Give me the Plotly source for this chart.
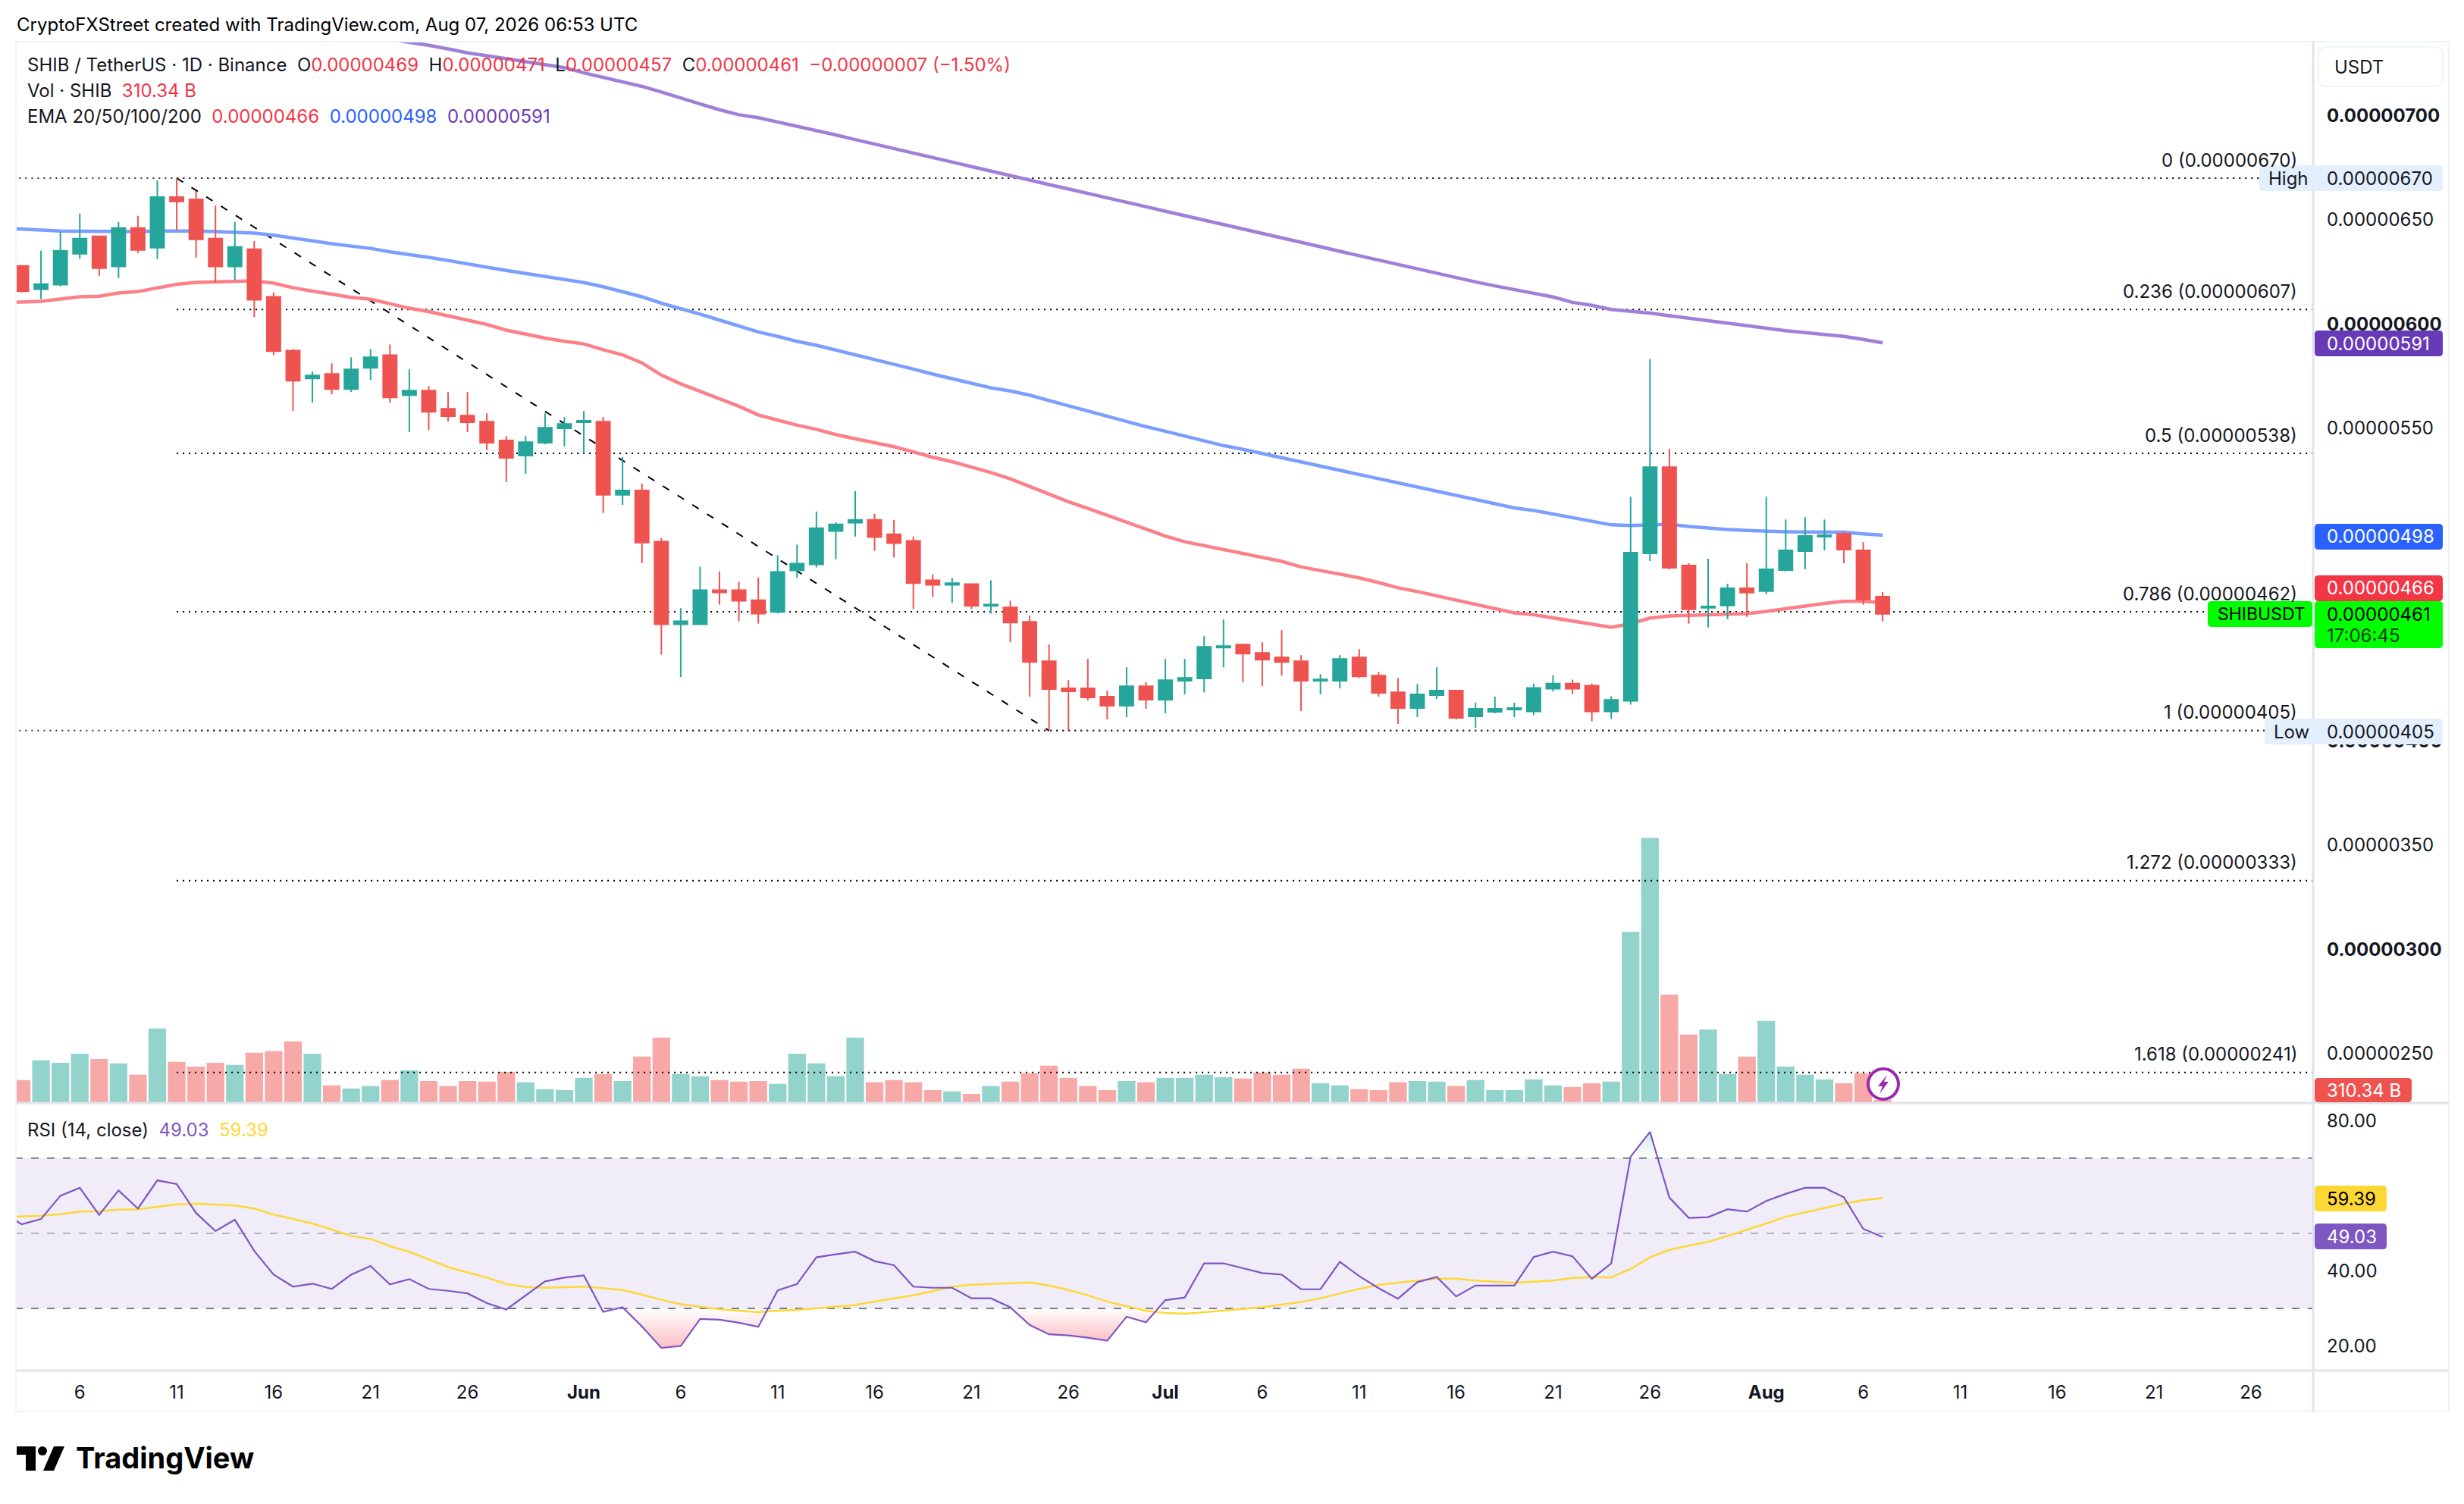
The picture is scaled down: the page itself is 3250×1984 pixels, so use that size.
import pandas as pd
import plotly.graph_objects as go

# prices are in units of 0.00000001 USDT, volume in billions of SHIB
dates = pd.date_range("2026-05-03", "2026-08-07", freq="D")
# the indicator lines start one day earlier so they reach the left edge
line_dates = pd.date_range("2026-05-02", "2026-08-07", freq="D")

open_ = [627.9, 616.7, 618.9, 633.7, 642.1, 627.6, 646.1, 636.6, 660.9, 659.8, 641.0, 627.6, 635.9, 613.1, 587.3, 573.9,
         576.1, 568.8, 579.0, 585.1, 565.9, 568.1, 559.4, 556.1, 553.2, 544.2, 536.9, 543.1, 550.0, 552.9, 553.2, 518.1,
         520.2, 495.6, 456.0, 456.0, 472.4, 472.4, 467.6, 461.9, 481.8, 484.7, 500.7, 504.7, 506.1, 499.2, 496.0, 477.1,
         474.9, 475.3, 464.8, 464.1, 457.2, 438.3, 425.3, 425.3, 421.3, 416.9, 426.3, 419.8, 428.9, 430.0, 444.8, 446.3,
         442.3, 440.1, 438.3, 428.9, 428.9, 440.1, 431.4, 423.4, 415.8, 422.0, 424.2, 411.8, 414.0, 415.1, 414.2, 425.1,
         427.6, 426.6, 414.2, 419.3, 490.0, 531.4, 484.2, 463.9, 465.0, 473.3, 471.9, 482.0, 491.1, 498.0, 499.4, 491.5,
         469.3]
high = [628.0, 635.2, 644.3, 653.0, 642.1, 649.0, 651.9, 668.9, 670.0, 663.8, 656.9, 649.0, 639.9, 615.2, 588.0, 577.2,
        581.2, 584.1, 588.0, 590.2, 578.3, 570.3, 567.4, 567.4, 557.2, 546.3, 546.3, 557.2, 555.4, 558.3, 555.4, 536.2,
        523.5, 497.4, 463.7, 483.6, 481.4, 476.4, 478.5, 489.1, 494.2, 510.1, 505.0, 519.9, 509.0, 506.1, 498.1, 480.0,
        478.2, 475.3, 477.1, 467.3, 460.1, 446.3, 429.2, 439.4, 424.2, 435.4, 428.2, 439.4, 439.4, 450.3, 458.3, 446.3,
        447.4, 453.2, 441.2, 432.1, 441.2, 444.1, 433.2, 430.3, 427.4, 435.4, 424.2, 418.4, 421.3, 418.4, 427.6, 431.6,
        429.5, 427.6, 421.5, 517.2, 583.2, 540.1, 485.3, 487.5, 475.5, 485.3, 517.2, 506.3, 507.4, 506.3, 500.2, 495.5,
        471.5]
low = [615.2, 612.0, 618.1, 631.2, 623.2, 622.1, 634.1, 631.2, 645.0, 631.9, 620.0, 621.0, 603.3, 585.1, 558.3, 562.3,
       566.3, 567.4, 573.2, 562.3, 548.2, 549.2, 553.2, 548.2, 539.5, 524.2, 528.2, 542.4, 541.3, 538.0, 509.4, 513.3,
       485.4, 441.5, 430.7, 455.7, 465.5, 457.5, 456.4, 461.2, 478.2, 483.3, 487.3, 498.1, 491.3, 488.0, 463.3, 469.1,
       466.2, 463.3, 461.2, 447.4, 421.3, 405.3, 405.3, 419.5, 410.4, 411.5, 415.5, 413.3, 422.4, 423.4, 435.4, 428.2,
       426.3, 431.4, 414.4, 422.4, 425.3, 430.3, 421.3, 408.2, 411.5, 420.2, 410.4, 406.4, 413.3, 411.5, 412.4, 423.7,
       422.6, 409.5, 410.6, 417.5, 486.4, 482.4, 456.3, 454.5, 458.5, 459.6, 470.4, 481.3, 482.4, 491.5, 485.3, 465.4,
       457.4]
close = [615.7, 619.2, 635.2, 641.0, 626.8, 646.1, 635.5, 660.9, 658.8, 640.6, 627.6, 637.0, 611.6, 587.0, 572.8, 575.4,
         568.8, 578.3, 584.1, 564.8, 568.1, 557.9, 555.8, 552.9, 543.1, 535.8, 543.4, 550.3, 552.1, 553.6, 518.1, 520.2,
         495.2, 456.0, 457.5, 472.4, 471.3, 467.3, 461.1, 481.1, 485.1, 502.1, 503.9, 506.1, 497.8, 494.9, 475.7, 474.9,
         475.7, 464.8, 465.5, 456.8, 437.9, 424.9, 423.8, 420.9, 416.9, 426.3, 419.8, 429.2, 430.3, 445.2, 445.6, 441.9,
         439.0, 437.9, 428.9, 429.6, 439.4, 431.0, 423.1, 415.8, 422.4, 424.2, 411.1, 415.5, 415.5, 415.8, 425.5, 427.6,
         425.1, 414.2, 419.7, 490.4, 531.4, 483.1, 463.2, 464.6, 473.3, 471.2, 482.4, 491.5, 498.4, 498.7, 491.8, 467.9,
         461.0]
volume = [2263, 4216, 3968, 4867, 4340, 3906, 2790, 7347, 4061, 3596, 3968, 3751, 4960, 5115, 6076, 4867, 1736, 1426,
          1674, 2263, 3224, 2170, 1674, 2170, 2108, 3069, 2046, 1364, 1271, 2480, 2852, 2170, 4588, 6448, 2852, 2635,
          2263, 2108, 2170, 1891, 4867, 3906, 2635, 6448, 2046, 2263, 2046, 1271, 1147, 899, 1674, 2108, 2945, 3689,
          2480, 1674, 1271, 2170, 2046, 2480, 2480, 2790, 2542, 2418, 3007, 2790, 3379, 1953, 1736, 1364, 1271, 2046,
          2170, 2108, 1674, 2263, 1271, 1271, 2325, 1736, 1581, 1953, 2108, 16895, 26164, 10695, 6758, 7254, 2852, 4588,
          8091, 3596, 2790, 2325, 1953, 2945, 310.34]

ema_red = [610.2, 610.5, 610.9, 612.0, 613.1, 613.4, 614.9, 615.6, 617.4, 619.1, 620.0, 620.2, 620.8, 620.7, 619.6, 617.4, 615.8,
           614.2, 612.8, 611.9, 609.6, 607.6, 606.0, 603.9, 602.2, 599.8, 597.1, 595.1, 593.3, 591.7, 590.5, 587.7, 585.2,
           581.4, 575.5, 571.3, 567.6, 564.0, 560.6, 556.4, 553.9, 551.5, 549.5, 547.0, 545.0, 543.2, 541.2, 538.7, 536.1,
           534.0, 531.5, 528.8, 525.8, 522.0, 518.6, 514.8, 511.6, 508.3, 504.9, 501.3, 498.3, 495.6, 493.7, 491.7, 489.9,
           488.0, 486.2, 483.5, 481.7, 480.1, 478.3, 476.0, 473.5, 471.7, 469.6, 467.6, 465.4, 463.3, 461.5, 460.6, 459.2,
           457.7, 456.2, 454.6, 456.3, 459.0, 460.0, 460.2, 460.4, 460.8, 461.1, 462.2, 463.3, 464.7, 466.0, 467.0, 467.0,
           466.5]
ema_blue = [646.0, 645.5, 644.9, 644.6, 644.5, 644.4, 644.4, 644.4, 644.6, 644.7, 644.6, 644.4, 644.1, 643.6, 642.6, 641.1, 640.0,
            638.5, 637.4, 636.3, 634.6, 633.5, 632.0, 630.5, 629.1, 627.3, 625.7, 624.2, 622.8, 621.3, 619.9, 617.9, 615.7,
            613.1, 610.0, 607.6, 604.8, 601.9, 599.0, 596.2, 594.1, 591.7, 589.8, 587.6, 585.4, 583.1, 580.8, 578.4, 576.0,
            573.7, 571.4, 569.4, 567.9, 565.9, 563.3, 560.8, 558.3, 555.7, 553.1, 550.8, 548.6, 546.3, 543.9, 541.7, 539.9,
            537.9, 535.9, 534.0, 532.2, 530.2, 528.0, 526.2, 523.9, 522.0, 520.0, 518.0, 515.8, 513.9, 511.8, 510.6, 508.9,
            507.0, 505.4, 503.7, 503.4, 503.9, 504.0, 502.9, 502.1, 501.5, 501.0, 500.5, 500.4, 500.3, 500.3, 500.2, 499.4,
            498.7]
# the 200 EMA only enters the pane on May 22
ema_purple_start = 19
ema_purple = [736.5, 735.2, 733.7, 732.0, 730.1, 728.7, 727.3, 725.9, 724.7, 723.0, 720.5, 718.4, 716.2, 714.0, 711.3, 708.3,
              705.6, 702.8, 700.4, 699.0, 697.0, 695.0, 692.8, 690.7, 688.5, 686.3, 684.1, 681.9, 679.7, 677.6, 675.5, 673.4,
              671.3, 669.1, 666.9, 664.8, 662.7, 660.6, 658.4, 656.2, 654.1, 652.0, 649.9, 647.8, 645.7, 643.6, 641.5, 639.3,
              637.1, 634.9, 632.8, 630.6, 628.3, 626.1, 624.0, 622.1, 620.2, 618.3, 616.5, 614.8, 613.0, 610.4, 609.0, 607.0,
              606.2, 605.3, 604.0, 602.8, 601.5, 600.2, 598.9, 597.7, 596.8, 595.9, 595.0, 594.1, 592.6, 591.0]

rsi = [55.6, 52.4, 53.8, 60.0, 62.1, 54.9, 61.4, 56.6, 64.1, 63.1, 55.4, 50.6, 53.6, 45.3, 39.0, 35.8, 36.6, 35.2, 39.0, 41.3, 36.4,
       37.8, 35.2, 34.7, 34.0, 31.4, 29.7, 33.4, 37.2, 38.2, 38.8, 29.1, 30.3, 25.2, 19.5, 20.0, 27.2, 27.0, 26.2, 25.1, 34.8,
       36.5, 43.6, 44.4, 45.1, 42.6, 41.5, 35.8, 35.5, 35.5, 32.7, 32.7, 30.3, 25.6, 23.1, 22.8, 22.2, 21.4, 27.8, 26.3, 32.2,
       32.9, 42.0, 42.0, 40.7, 39.4, 39.0, 35.1, 35.1, 42.4, 38.6, 35.4, 32.6, 37.0, 38.4, 33.2, 36.1, 36.1, 36.1, 43.7, 45.1,
       43.9, 37.9, 42.0, 70.4, 77.0, 59.5, 54.1, 54.3, 56.4, 55.8, 58.6, 60.5, 62.1, 62.1, 59.6, 51.2, 49.03]
rsi_ma = [54.3, 54.5, 54.7, 55.1, 55.8, 55.9, 56.3, 56.4, 57.0, 57.7, 57.9, 57.6, 57.4, 56.6, 55.0, 53.8, 52.6, 51.0, 49.3, 48.5, 46.6,
          45.1, 43.1, 41.0, 39.6, 38.2, 36.5, 35.7, 35.5, 35.7, 35.8, 35.4, 34.9, 33.7, 32.3, 31.1, 30.5, 29.8, 29.4, 29.0, 29.4,
          29.6, 30.0, 30.4, 30.9, 31.8, 32.7, 33.5, 34.6, 35.8, 36.3, 36.5, 36.8, 36.9, 36.1, 34.9, 33.5, 31.8, 30.6, 29.4, 28.8,
          28.6, 29.0, 29.4, 29.8, 30.3, 31.0, 31.7, 32.7, 34.0, 35.2, 36.3, 36.8, 37.4, 37.9, 37.9, 37.4, 37.1, 36.8, 37.1, 37.4,
          38.1, 38.3, 38.3, 40.5, 43.6, 45.6, 46.7, 47.7, 49.3, 50.9, 52.6, 54.4, 55.6, 56.8, 57.9, 58.8, 59.39]

fib_ratios = ["0", "0.236", "0.5", "0.786", "1", "1.272", "1.618"]
fib_levels = [670, 607, 538, 462, 405, 333, 241]
price_ticks = [700, 650, 600, 550, 500, 450, 400, 350, 300, 250]
bold_ticks = [700, 600, 400, 300]
rsi_ticks = [80, 60, 40, 20]
tick_dates = ["2026-05-06", "2026-05-11", "2026-05-16", "2026-05-21", "2026-05-26", "2026-06-01", "2026-06-06",
              "2026-06-11", "2026-06-16", "2026-06-21", "2026-06-26", "2026-07-01", "2026-07-06", "2026-07-11",
              "2026-07-16", "2026-07-21", "2026-07-26", "2026-08-01", "2026-08-06", "2026-08-11", "2026-08-16",
              "2026-08-21", "2026-08-26"]
tick_text = ["6", "11", "16", "21", "26", "<b>Jun</b>", "6", "11", "16", "21", "26", "<b>Jul</b>", "6", "11", "16",
             "21", "26", "<b>Aug</b>", "6", "11", "16", "21", "26"]

FONT = "Inter"
INK = "#131722"
UP = "#26a69a"
DOWN = "#ef5350"

W, H = 3250, 1984
L, R, T, B = 20, 3051, 54, 1808
PANE = 1455
PRICE_RANGE = [226.4, 735.8]


def px(x):
    return (x - L) / (R - L)


def py(y):
    return 1 - (y - T) / (B - T)


def poly(points):
    return "M " + " L ".join(f"{px(x)},{py(y)}" for x, y in points) + " Z"


def box(x0, y0, x1, y1, color, line=None, r=5):
    # rounded rectangle given in page pixels
    path = (f"M {px(x0 + r)},{py(y0)} L {px(x1 - r)},{py(y0)} Q {px(x1)},{py(y0)} {px(x1)},{py(y0 + r)} "
            f"L {px(x1)},{py(y1 - r)} Q {px(x1)},{py(y1)} {px(x1 - r)},{py(y1)} L {px(x0 + r)},{py(y1)} "
            f"Q {px(x0)},{py(y1)} {px(x0)},{py(y1 - r)} L {px(x0)},{py(y0 + r)} Q {px(x0)},{py(y0)} {px(x0 + r)},{py(y0)} Z")
    return dict(type="path", path=path, xref="paper", yref="paper", fillcolor=color, layer="above",
                line=dict(color=line or color, width=2 if line else 0))


def page_line(x0, y0, x1, y1, color, width):
    return dict(type="line", xref="paper", yref="paper", x0=px(x0), y0=py(y0), x1=px(x1), y1=py(y1), layer="above",
                line=dict(color=color, width=width))


def label(x, y, text, color=INK, size=24, anchor="left"):
    return dict(x=px(x), y=py(y), xref="paper", yref="paper", text=text, showarrow=False, xanchor=anchor,
                yanchor="middle", align=anchor, font=dict(family=FONT, size=size, color=color))


def zone(values, level, below):
    # pieces of the RSI line past a level, closed along the level
    hit = [(v < level) if below else (v > level) for v in values]
    pieces, cur = [], []
    for i, v in enumerate(values):
        if hit[i]:
            if not cur and i > 0:
                f = (level - values[i - 1]) / (v - values[i - 1])
                cur.append((line_dates[i - 1] + (line_dates[i] - line_dates[i - 1]) * f, level))
            cur.append((line_dates[i], v))
        elif cur:
            f = (level - values[i - 1]) / (v - values[i - 1])
            cur.append((line_dates[i - 1] + (line_dates[i] - line_dates[i - 1]) * f, level))
            pieces.append(cur)
            cur = []
    return pieces


bar_colors = ["#92d3cc" if c >= o else "#f7a9a7" for o, c in zip(open_, close)]

fig = go.Figure()
fig.add_trace(go.Bar(x=dates, y=volume, yaxis="y", marker=dict(color=bar_colors, line=dict(width=0))))

for ratio, level in zip(fib_ratios, fib_levels):
    fig.add_trace(go.Scatter(x=[dates[8], "2026-08-30"], y=[level, level], yaxis="y2", mode="lines",
                             line=dict(color="#000000", width=2, dash="2px,6px")))
# high and low price lines run over the full width
for level in [fib_levels[0], fib_levels[4]]:
    fig.add_trace(go.Scatter(x=["2026-05-01", "2026-08-30"], y=[level, level], yaxis="y2", mode="lines",
                             line=dict(color="#333333", width=2, dash="2px,6px")))

fig.add_trace(go.Scatter(x=[dates[8], dates[53]], y=[fib_levels[0], fib_levels[4]], yaxis="y2", mode="lines",
                         line=dict(color="#000000", width=2, dash="10px,13px")))
fig.add_trace(go.Scatter(x=line_dates, y=ema_red, yaxis="y2", mode="lines", line=dict(color="#fb8089", width=4.5)))
fig.add_trace(go.Scatter(x=line_dates, y=ema_blue, yaxis="y2", mode="lines", line=dict(color="#7b9eff", width=4.5)))
fig.add_trace(go.Scatter(x=dates[ema_purple_start:], y=ema_purple, yaxis="y2", mode="lines",
                         line=dict(color="#a07fd8", width=4.5)))

fig.add_trace(go.Candlestick(x=dates, open=open_, high=high, low=low, close=close, yaxis="y3",
                             increasing=dict(line=dict(color=UP, width=2), fillcolor=UP),
                             decreasing=dict(line=dict(color=DOWN, width=2), fillcolor=DOWN),
                             whiskerwidth=0))

for piece in zone(rsi, 30, True):
    fig.add_trace(go.Scatter(x=[p[0] for p in piece], y=[p[1] for p in piece], yaxis="y4", mode="none", fill="toself",
                             fillgradient=dict(type="vertical", colorscale=[[0, "rgba(242,54,69,0.32)"],
                                                                             [1, "rgba(242,54,69,0)"]])))
for piece in zone(rsi, 70, False):
    fig.add_trace(go.Scatter(x=[p[0] for p in piece], y=[p[1] for p in piece], yaxis="y4", mode="none", fill="toself",
                             fillgradient=dict(type="vertical", colorscale=[[0, "rgba(38,166,154,0)"],
                                                                             [1, "rgba(38,166,154,0.22)"]])))
fig.add_trace(go.Scatter(x=line_dates, y=rsi_ma, yaxis="y4", mode="lines", line=dict(color="#fdd835", width=2.5)))
fig.add_trace(go.Scatter(x=line_dates, y=rsi, yaxis="y4", mode="lines", line=dict(color="#7e57c2", width=2.2)))

shapes = [
    dict(type="rect", xref="paper", yref="y4", x0=0, x1=1, y0=30, y1=70, fillcolor="rgba(126,87,194,0.115)",
         line=dict(width=0), layer="below"),
    dict(type="line", xref="paper", yref="y4", x0=0, x1=1, y0=70, y1=70, layer="below",
         line=dict(color="#787b86", width=2, dash="10px,11px")),
    dict(type="line", xref="paper", yref="y4", x0=0, x1=1, y0=50, y1=50, layer="below",
         line=dict(color="rgba(120,123,134,0.5)", width=2, dash="10px,11px")),
    dict(type="line", xref="paper", yref="y4", x0=0, x1=1, y0=30, y1=30, layer="below",
         line=dict(color="#787b86", width=2, dash="10px,11px")),
    # chart frame
    dict(type="rect", xref="paper", yref="paper", x0=px(21), x1=px(3230), y0=py(55), y1=py(1862),
         line=dict(color="#f0f3fa", width=2), layer="above"),
    page_line(R, T, R, 1862, "#e0e3eb", 3),
    page_line(21, PANE, 3230, PANE, "#e0e3eb", 3),
    page_line(21, B, 3230, B, "#e0e3eb", 3),
    # price scale tags
    box(3058, 62, 3222, 114, "#ffffff", line="#f0f3fa", r=10),
    box(2980, 218, 3222, 252, "#e3effd"),
    box(R + 2, 436, 3222, 470, "#673ab7"),
    box(R + 2, 691, 3222, 725, "#2962ff"),
    box(R + 2, 759, 3222, 793, "#f23645"),
    box(R + 2, 793, 3222, 855, "#00ff00"),
    box(2912, 793, R - 1, 827, "#00ff00"),
    box(2987, 948, 3222, 982, "#e3effd"),
    box(R + 2, 1422, 3181, 1454, DOWN),
    box(R + 2, 1564, 3148, 1598, "#fdd835"),
    box(R + 2, 1614, 3148, 1648, "#7e57c2"),
    # news flash marker
    dict(type="circle", xref="paper", yref="paper", x0=px(2464), x1=px(2504), y0=py(1450), y1=py(1410),
         fillcolor="#ffffff", line=dict(color="#9c27b0", width=4), layer="above"),
    dict(type="path", xref="paper", yref="paper", fillcolor="#9c27b0", line=dict(width=0), layer="above",
         path=poly([(2489, 1418), (2477, 1433), (2483, 1433), (2479, 1443), (2491, 1427), (2485, 1427)])),
    # logo
    dict(type="path", xref="paper", yref="paper", fillcolor="#000000", line=dict(width=0), layer="above",
         path=poly([(22, 1908), (47, 1908), (47, 1940), (34, 1940), (34, 1919), (22, 1919)])),
    dict(type="circle", xref="paper", yref="paper", x0=px(50), x1=px(62), y0=py(1920), y1=py(1908),
         fillcolor="#000000", line=dict(width=0), layer="above"),
    dict(type="path", xref="paper", yref="paper", fillcolor="#000000", line=dict(width=0), layer="above",
         path=poly([(71, 1908), (85, 1908), (71, 1940), (57, 1940)])),
]

up_red = "#f23645"
notes = [
    label(20, 32, "CryptoFXStreet created with TradingView.com, Aug 07, 2026 06:53 UTC", "#000000"),
    label(34, 86, f"SHIB / TetherUS · 1D · Binance  O<span style='color:{up_red}'>0.00000469</span>  "
                  f"H<span style='color:{up_red}'>0.00000471</span>  L<span style='color:{up_red}'>0.00000457</span>  "
                  f"C<span style='color:{up_red}'>0.00000461  −0.00000007 (−1.50%)</span>"),
    label(34, 120, f"Vol · SHIB  <span style='color:{up_red}'>310.34 B</span>"),
    label(34, 154, f"EMA 20/50/100/200  <span style='color:{up_red}'>0.00000466</span>  "
                   "<span style='color:#2962ff'>0.00000498</span>  <span style='color:#673ab7'>0.00000591</span>"),
    label(34, 1490, "RSI (14, close)  <span style='color:#7e57c2'>49.03</span>  <span style='color:#fdd835'>59.39</span>"),
    label(3077, 88, "USDT"),
    label(2990, 235, "High"),
    label(3067, 235, "0.00000670"),
    label(3067, 453, "0.00000591", "#ffffff"),
    label(3067, 708, "0.00000498", "#ffffff"),
    label(3067, 776, "0.00000466", "#ffffff"),
    label(2923, 810, "SHIBUSDT", "#000000", size=23),
    label(3067, 810, "0.00000461", "#000000"),
    label(3067, 838, "17:06:45", "#0a3d0a"),
    label(2997, 965, "Low"),
    label(3067, 965, "0.00000405"),
    label(3067, 1438, "310.34 B", "#ffffff"),
    label(3067, 1581, "59.39", "#000000"),
    label(3067, 1631, "49.03", "#ffffff"),
    label(98, 1923, "<b>TradingView</b>", "#000000", size=38),
]
for ratio, level in zip(fib_ratios, fib_levels):
    y_line = 235 + (670 - level) * 2.75
    notes.append(label(3032, y_line - 24, f"{ratio} (0.00000{level})", anchor="right"))

fig.update_layout(
    width=W, height=H, autosize=False,
    margin=dict(l=L, r=W - R, t=T, b=H - B),
    paper_bgcolor="#ffffff", plot_bgcolor="rgba(0,0,0,0)",
    showlegend=False, hovermode=False, bargap=0.09, boxgap=0.3, boxgroupgap=0,
    font=dict(family=FONT, size=24, color=INK),
    xaxis=dict(type="date", range=["2026-05-02 16:00", "2026-08-29 05:00"], anchor="y4", showgrid=False,
               zeroline=False, showline=False, ticks="", tickmode="array", tickvals=tick_dates, ticktext=tick_text,
               ticklabelstandoff=12, rangeslider=dict(visible=False), tickfont=dict(family=FONT, size=24, color=INK)),
    yaxis=dict(domain=[1 - (PANE - T) / (B - T), 1], range=[0, 104800], visible=False, fixedrange=True),
    yaxis2=dict(overlaying="y", side="right", range=PRICE_RANGE, showgrid=False, zeroline=False, showline=False,
                ticks="", tickmode="array", tickvals=price_ticks,
                ticktext=[f"<b>0.00000{t}</b>" if t in bold_ticks else f"0.00000{t}" for t in price_ticks],
                ticklabelstandoff=17, tickfont=dict(family=FONT, size=24, color=INK)),
    yaxis3=dict(overlaying="y", range=PRICE_RANGE, visible=False),
    yaxis4=dict(domain=[0, 1 - (PANE - T) / (B - T)], range=[13.45, 84.7], side="right", anchor="x", showgrid=False,
                zeroline=False, showline=False, ticks="", tickmode="array", tickvals=rsi_ticks,
                ticktext=[f"{t}.00" for t in rsi_ticks], ticklabelstandoff=17,
                tickfont=dict(family=FONT, size=24, color=INK)),
    shapes=shapes,
    annotations=notes,
)

fig.write_html("out.html", config=dict(displayModeBar=False), post_script="document.body.style.margin='0';")
